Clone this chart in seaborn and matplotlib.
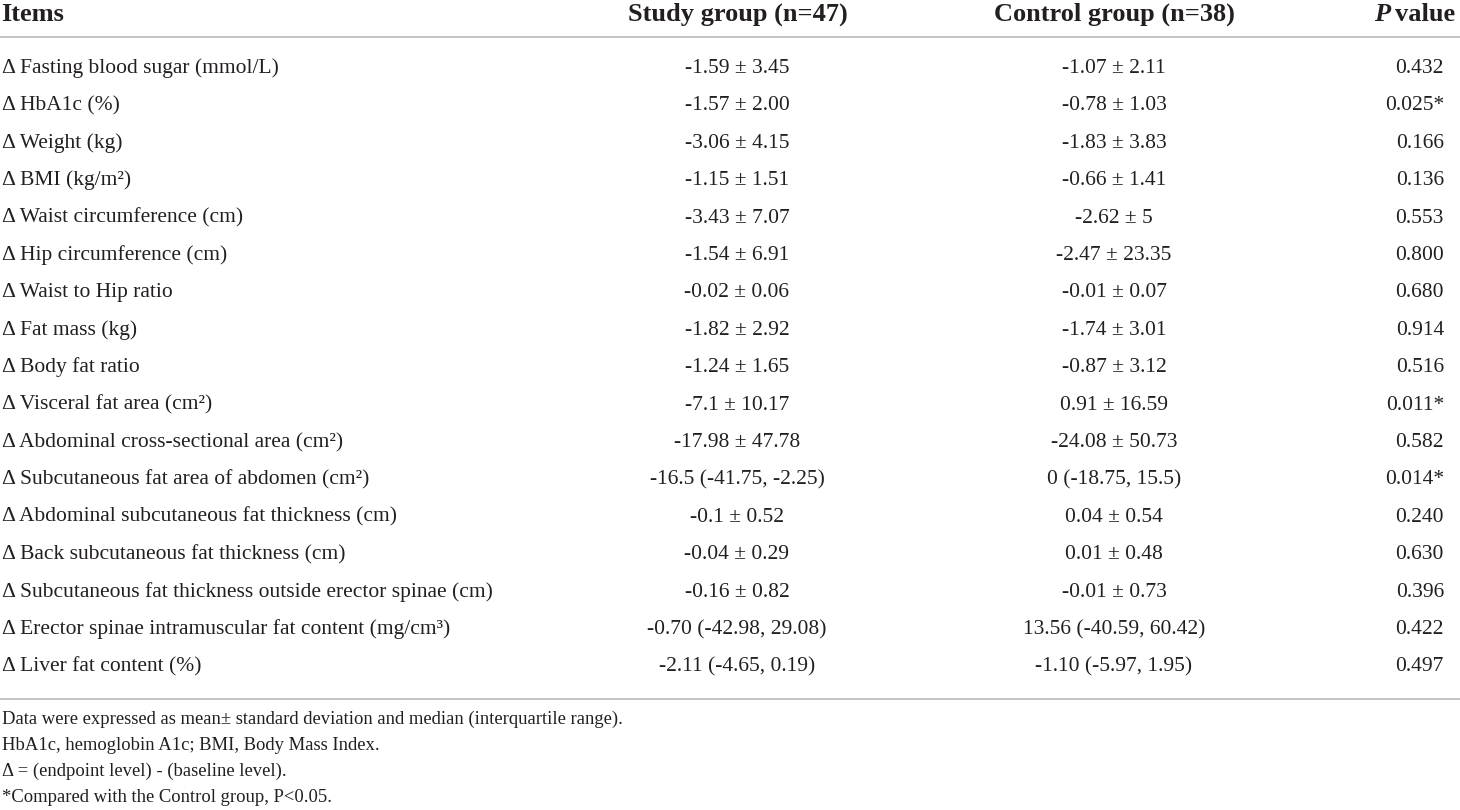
"""
Table of changes from baseline, study vs control group
"""

import matplotlib

matplotlib.use("Agg")
import matplotlib.pyplot as plt
import seaborn as sns

items = [
    "Δ Fasting blood sugar (mmol/L)",
    "Δ HbA1c (%)",
    "Δ Weight (kg)",
    "Δ BMI (kg/m²)",
    "Δ Waist circumference (cm)",
    "Δ Hip circumference (cm)",
    "Δ Waist to Hip ratio",
    "Δ Fat mass (kg)",
    "Δ Body fat ratio",
    "Δ Visceral fat area (cm²)",
    "Δ Abdominal cross-sectional area (cm²)",
    "Δ Subcutaneous fat area of abdomen (cm²)",
    "Δ Abdominal subcutaneous fat thickness (cm)",
    "Δ Back subcutaneous fat thickness (cm)",
    "Δ Subcutaneous fat thickness outside erector spinae (cm)",
    "Δ Erector spinae intramuscular fat content (mg/cm³)",
    "Δ Liver fat content (%)",
]
study_group = [
    "-1.59 ± 3.45", "-1.57 ± 2.00", "-3.06 ± 4.15", "-1.15 ± 1.51", "-3.43 ± 7.07",
    "-1.54 ± 6.91", "-0.02 ± 0.06", "-1.82 ± 2.92", "-1.24 ± 1.65", "-7.1 ± 10.17",
    "-17.98 ± 47.78", "-16.5 (-41.75, -2.25)", "-0.1 ± 0.52", "-0.04 ± 0.29",
    "-0.16 ± 0.82", "-0.70 (-42.98, 29.08)", "-2.11 (-4.65, 0.19)",
]
control_group = [
    "-1.07 ± 2.11", "-0.78 ± 1.03", "-1.83 ± 3.83", "-0.66 ± 1.41", "-2.62 ± 5",
    "-2.47 ± 23.35", "-0.01 ± 0.07", "-1.74 ± 3.01", "-0.87 ± 3.12", "0.91 ± 16.59",
    "-24.08 ± 50.73", "0 (-18.75, 15.5)", "0.04 ± 0.54", "0.01 ± 0.48",
    "-0.01 ± 0.73", "13.56 (-40.59, 60.42)", "-1.10 (-5.97, 1.95)",
]
p_values = [
    "0.432", "0.025*", "0.166", "0.136", "0.553", "0.800", "0.680", "0.914",
    "0.516", "0.011*", "0.582", "0.014*", "0.240", "0.630", "0.396", "0.422", "0.497",
]
headers = ["Items", "Study group (n=47)", "Control group (n=38)", "value"]
footnotes = [
    "Data were expressed as mean± standard deviation and median (interquartile range).",
    "HbA1c, hemoglobin A1c; BMI, Body Mass Index.",
    "Δ = (endpoint level) - (baseline level).",
    "*Compared with the Control group, P<0.05.",
]

sns.set_theme(style="white")
plt.rcParams["font.family"] = ["Liberation Serif", "DejaVu Serif"]

TEXT = "#231f20"
RULE = "#c0c0c0"

W, H = 1460, 810
fig = plt.figure(figsize=(W / 100, H / 100), dpi=100)
ax = fig.add_axes([0, 0, 1, 1])
ax.set_xlim(0, W)
ax.set_ylim(H, 0)
ax.axis("off")

header_x = [1, 738, 1114, 1455]
body_x = [2, 737, 1114, 1444]
col_ha = ["left", "center", "center", "right"]

# header
header_y = 21
for x, ha, label in zip(header_x, col_ha, headers):
    ax.text(x, header_y, label, ha=ha, va="baseline", fontsize=19, fontweight="bold", color=TEXT)
fig.canvas.draw()
renderer = fig.canvas.get_renderer()
bbox = ax.texts[-1].get_window_extent(renderer)
x_left = ax.transData.inverted().transform((bbox.x0, 0))[0]
ax.text(x_left - 5, header_y, "P", ha="right", va="baseline", fontsize=19,
        fontweight="bold", fontstyle="italic", color=TEXT)

ax.axhline(37, color=RULE, lw=1.3)

# body rows
row0, step = 73, 37.4
for i, (item, s, c, p) in enumerate(zip(items, study_group, control_group, p_values)):
    y = row0 + i * step
    for x, ha, val in zip(body_x, col_ha, [item, s, c, p]):
        ax.text(x, y, val, ha=ha, va="baseline", fontsize=15.5, color=TEXT)

ax.axhline(699, color=RULE, lw=1.3)

# footnotes
for j, note in enumerate(footnotes):
    ax.text(2, 724 + j * 26, note, ha="left", va="baseline", fontsize=13.4, color=TEXT)

fig.savefig("out.png", dpi=100)
